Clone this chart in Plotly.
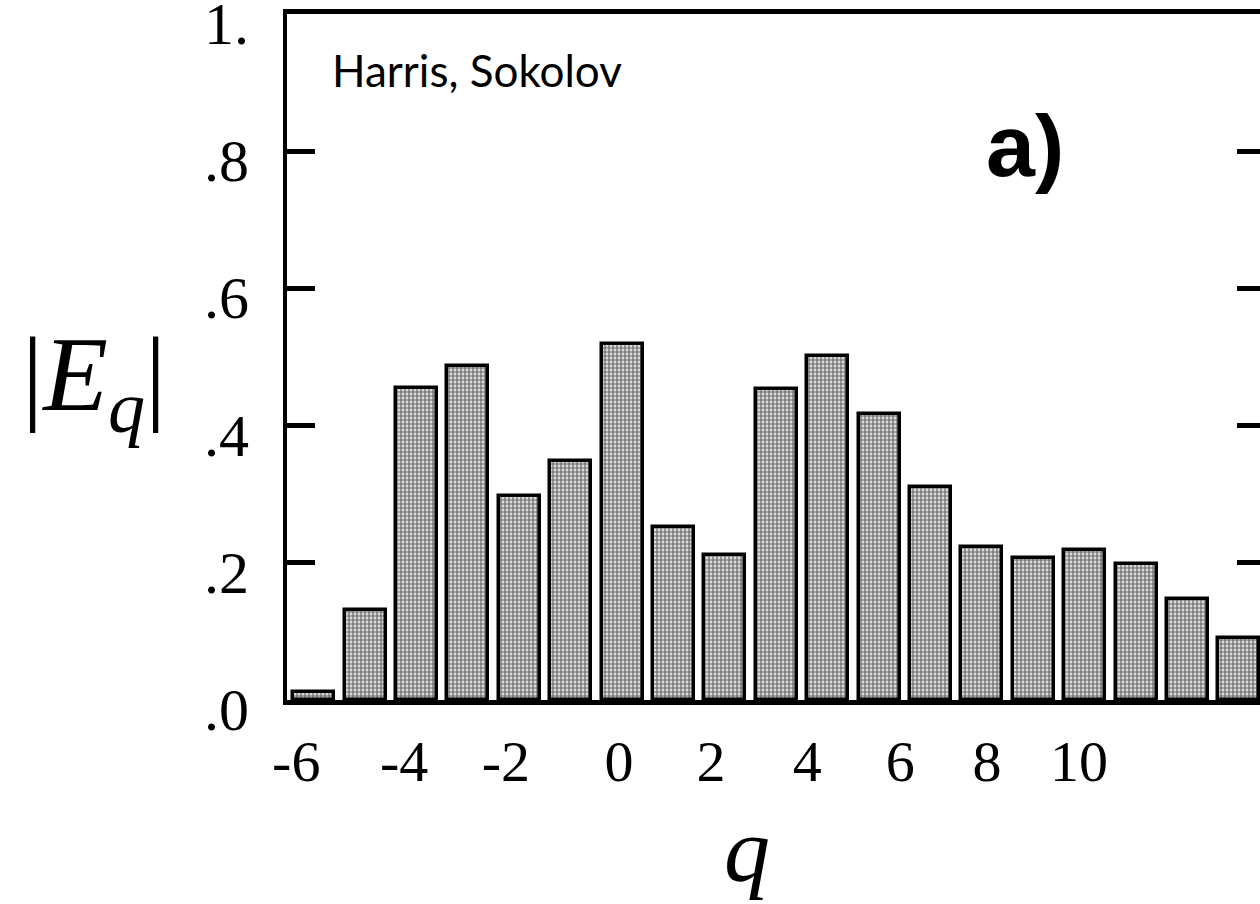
import plotly.graph_objects as go

# ---- data ----
q_values = [-6, -5, -4, -3, -2, -1, 0, 1, 2, 3, 4, 5, 6, 7, 8, 9, 10, 11, 12]
e_q = [0.012, 0.131, 0.455, 0.487, 0.297, 0.348, 0.519, 0.252, 0.211, 0.454,
       0.502, 0.417, 0.311, 0.223, 0.207, 0.219, 0.198, 0.147, 0.090]

# x tick labels and where they sit (in q units, as printed in the original)
x_tick_text = ["-6", "-4", "-2", "0", "2", "4", "6", "8", "10"]
x_tick_pos = [-6.34, -4.24, -2.26, -0.06, 1.73, 3.60, 5.41, 7.10, 8.89]

y_tick_vals = [0, 0.2, 0.4, 0.6, 0.8, 1.0]
y_tick_text = [".0", ".2", ".4", ".6", ".8", "1."]

# ---- layout geometry ----
W, H = 1260, 904
L, R, T, B = 287, 1260, 14, 700
PW, PH = R - L, B - T


def px(x):
    return (x - L) / PW


def py(y):
    return (B - y) / PH


fig = go.Figure()
fig.add_trace(go.Bar(
    x=q_values, y=e_q, width=0.8,
    marker=dict(
        color="white",
        line=dict(color="black", width=3.5),
        pattern=dict(shape=".", fgcolor="black", bgcolor="white", size=4, solidity=0.7),
    ),
    showlegend=False,
))
# invisible trace to anchor the right-hand tick axis
fig.add_trace(go.Scatter(x=[q_values[0]], y=[0], yaxis="y2", mode="markers",
                         marker=dict(opacity=0), showlegend=False, hoverinfo="skip"))

serif = "Liberation Serif"
fig.update_layout(
    width=W, height=H,
    margin=dict(l=L, r=W - R, t=T, b=H - B, autoexpand=False),
    paper_bgcolor="white", plot_bgcolor="white",
    bargap=0,
    xaxis=dict(
        range=[-6.52, 12.41], showgrid=False, zeroline=False, automargin=False,
        showline=True, linecolor="black", linewidth=5, mirror=True,
        tickmode="array", tickvals=x_tick_pos, ticktext=x_tick_text,
        ticks="", ticklabelstandoff=6, ticklabeloverflow="allow",
        tickfont=dict(family=serif, size=58, color="black"),
    ),
    yaxis=dict(
        range=[0, 1.0], showgrid=False, zeroline=False, automargin=False,
        showline=True, linecolor="black", linewidth=4,
        tickmode="array", tickvals=y_tick_vals, ticktext=y_tick_text,
        ticks="inside", ticklen=28, tickwidth=5, tickcolor="black",
        ticklabelstandoff=22, ticklabelshift=9, ticklabeloverflow="allow",
        tickfont=dict(family=serif, size=60, color="black"),
    ),
    yaxis2=dict(
        range=[0, 1.0], overlaying="y", side="right", showgrid=False, zeroline=False,
        automargin=False,
        showline=False, tickmode="array", tickvals=y_tick_vals[1:5],
        ticks="inside", ticklen=23, tickwidth=5, tickcolor="black",
        showticklabels=False,
    ),
    annotations=[
        dict(text="Harris, Sokolov", xref="paper", yref="paper", x=px(330), y=py(70),
             xanchor="left", yanchor="middle", showarrow=False,
             font=dict(family="Lato", size=44, color="black")),
        dict(text="<b>a)</b>", xref="paper", yref="paper", x=px(1025), y=py(145),
             xanchor="center", yanchor="middle", showarrow=False,
             font=dict(family="Liberation Sans", size=88, color="black")),
        dict(text="|<i>E</i><sub><i>q</i></sub>|", xref="paper", yref="paper",
             x=px(94), y=py(382), xanchor="center", yanchor="middle", showarrow=False,
             font=dict(family=serif, size=106, color="black")),
        dict(text="<i>q</i>", xref="paper", yref="paper", x=px(747), y=py(850),
             xanchor="center", yanchor="middle", showarrow=False,
             font=dict(family=serif, size=92, color="black")),
    ],
)

fig.write_html("out.html")
